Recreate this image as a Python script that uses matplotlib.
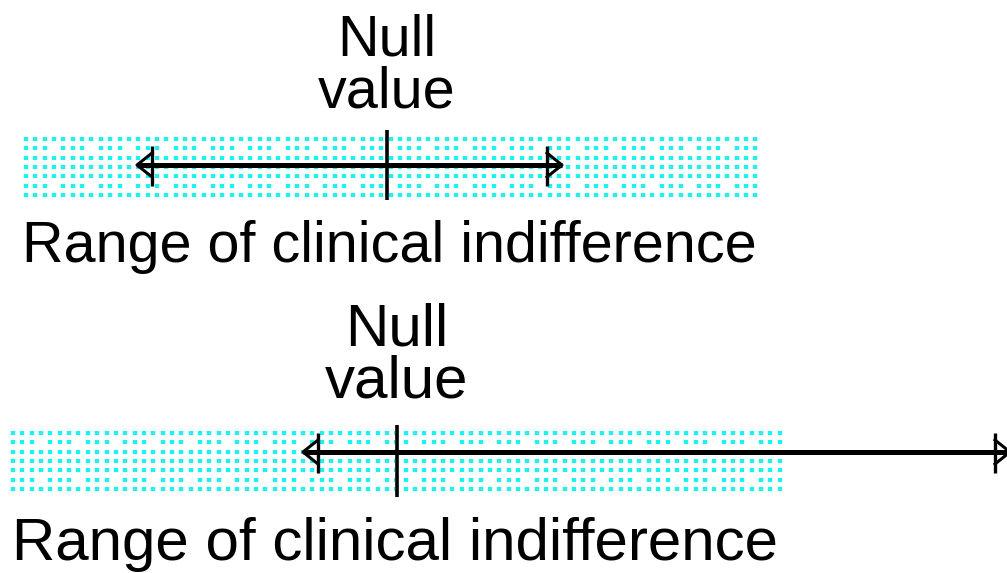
import numpy as np
import matplotlib
matplotlib.use("Agg")
import matplotlib.pyplot as plt

# two panels, everything in pixel units of the original picture
null_label = ["Null", "value"]
range_label = "Range of clinical indifference"

null_x = [387, 397]          # null value position
tick_top = [130, 425]
tick_bottom = [200, 497]
band_left = [26, 13]
band_right = [760, 782]
band_top = [139, 433]
arrow_y = [165, 452]
arrow_left = [137, 303]      # tip of left arrow
arrow_right = [562, 1010]    # tip of right arrow
label_left = [22, 12]
label_base = [262, 560]
null_base = [55, 345]
null_step = [53, 53]
font_pt = [41.4, 43.3]

fig = plt.figure(figsize=(10.07, 5.73), dpi=100)
ax = fig.add_axes([0, 0, 1, 1])
ax.set_xlim(0, 1007)
ax.set_ylim(573, 0)
ax.axis('off')

FONT = 'Liberation Sans'
step = 9.35
n_rows = 7

for i in range(2):
    # dotted cyan band (rows 2 and 6 skip every 4th dot)
    xs = np.arange(band_left[i], band_right[i], step)
    px, py = [], []
    for r in range(n_rows):
        yy = band_top[i] + r * step
        for c, xx in enumerate(xs):
            if r in (1, 5) and c % 4 == 3:
                continue
            px.append(xx)
            py.append(yy)
    ax.scatter(px, py, s=11, marker='s', color='#00ffff', linewidths=0, zorder=1)

    y = arrow_y[i]
    # main line
    ax.plot([arrow_left[i], arrow_right[i]], [y, y], color='black', lw=3.6,
            solid_capstyle='butt', zorder=3)
    # null value tick
    ax.plot([null_x[i], null_x[i]], [tick_top[i], tick_bottom[i]], color='black', lw=2.6,
            solid_capstyle='butt', zorder=3)
    # arrow heads: open triangle with a longer base bar
    for tip, d in [(arrow_left[i], 1), (arrow_right[i], -1)]:
        base = tip + d * 15
        ax.plot([base, tip, base], [y - 12, y, y + 12], color='black', lw=2.2, zorder=3)
        ax.plot([base, base], [y - 19, y + 21], color='black', lw=2.4,
                solid_capstyle='butt', zorder=3)

    fs = font_pt[i]
    ax.text(null_x[i], null_base[i], null_label[0], ha='center', va='baseline',
            fontsize=fs, family=FONT)
    ax.text(null_x[i], null_base[i] + null_step[i], null_label[1], ha='center', va='baseline',
            fontsize=fs, family=FONT)
    ax.text(label_left[i], label_base[i], range_label, ha='left', va='baseline',
            fontsize=fs, family=FONT)

fig.savefig('out.png', dpi=100)
